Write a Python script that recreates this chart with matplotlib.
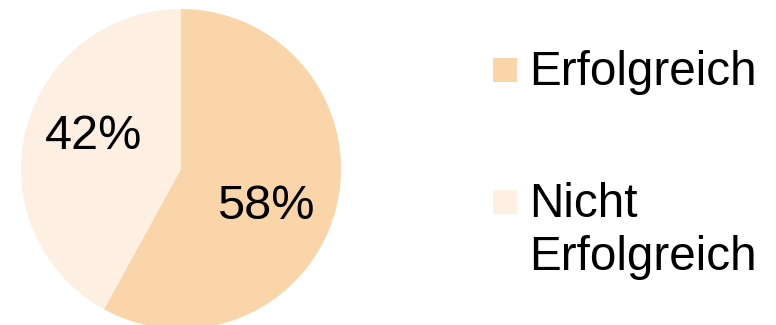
import matplotlib.pyplot as plt
from matplotlib.patches import Rectangle

# share of outcomes
labels = ["Erfolgreich", "Nicht\nErfolgreich"]
shares = [58, 42]
colors = ["#F9D5A9", "#FDEFE1"]

# where the percentage labels sit inside the pie (data units)
pct_pos = [(0.531, -0.2375), (-0.544, 0.20)]

W, H = 776, 325
plt.rcParams["font.family"] = ["Liberation Sans", "DejaVu Sans"]

fig = plt.figure(figsize=(W / 100, H / 100), dpi=100)

# pie: centre (181, 169) px, radius 160 px
cx, cy, r = 181, 169, 160
ax = fig.add_axes([(cx - r) / W, (H - cy - r) / H, 2 * r / W, 2 * r / H])
wedges, texts, autotexts = ax.pie(
    shares,
    colors=colors,
    startangle=90,
    counterclock=False,
    autopct="%d%%",
    textprops={"fontsize": 35, "color": "black"},
)
for t, pos in zip(autotexts, pct_pos):
    t.set_position(pos)
    t.set_va("center")
    t.set_ha("center")
ax.set_xlim(-1, 1)
ax.set_ylim(-1, 1)
ax.axis("off")

# legend drawn by hand: square + label (first line baseline in px)
legend_rows = [(58, 85), (190, 217)]
for (sq_top, base), lab, col in zip(legend_rows, labels, colors):
    fig.add_artist(Rectangle((493 / W, 1 - (sq_top + 24) / H), 24 / W, 24 / H,
                             transform=fig.transFigure, facecolor=col,
                             edgecolor="none"))
    lines = lab.split("\n")
    for i, line in enumerate(lines):
        fig.text(529 / W, 1 - (base + 53 * i) / H, line, fontsize=34.3,
                 va="baseline", ha="left")

fig.savefig("out.png", dpi=100)
